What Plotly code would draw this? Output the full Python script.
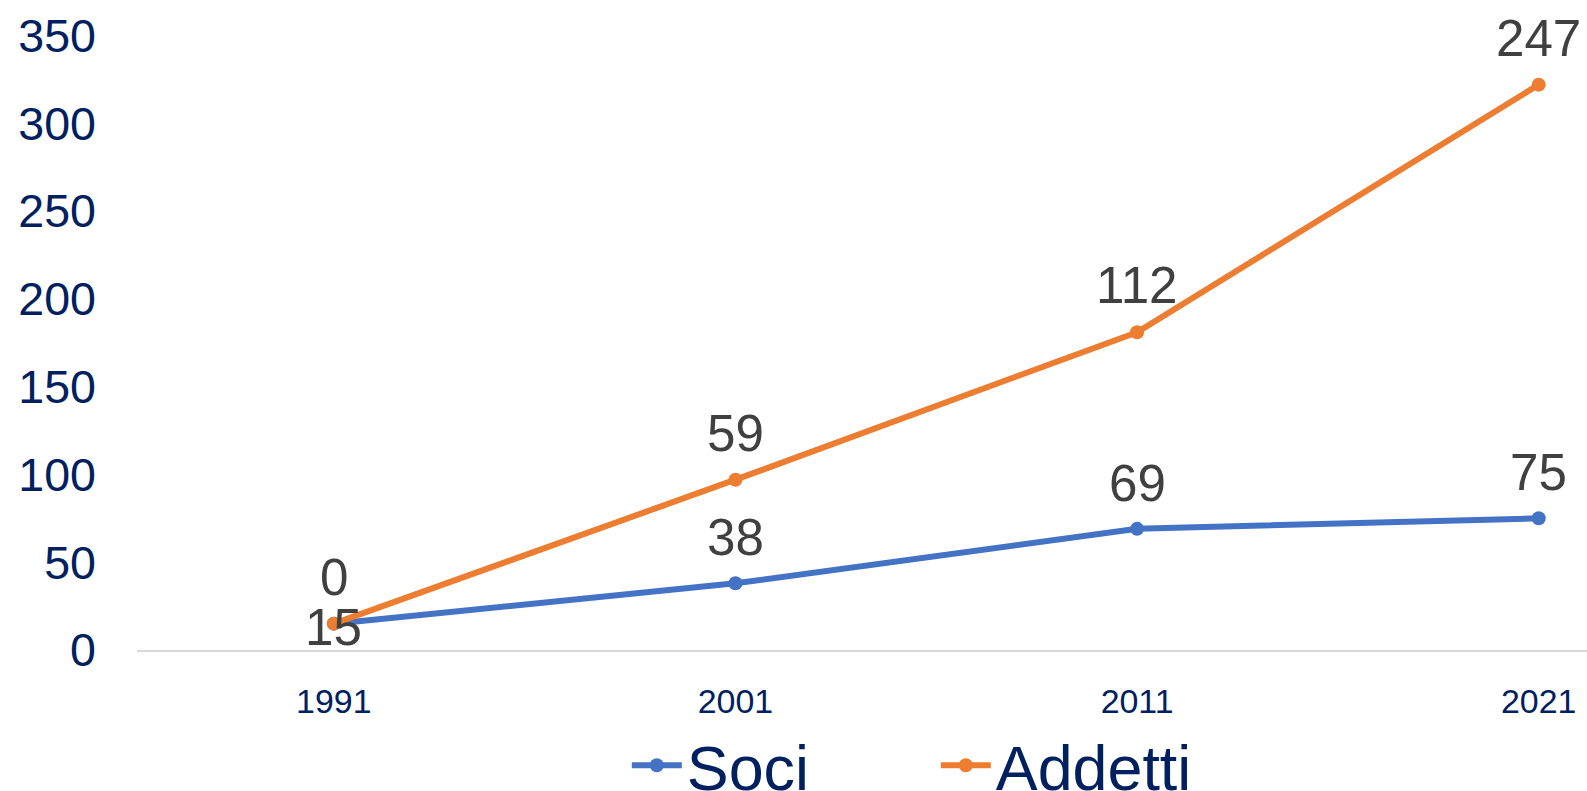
import plotly.graph_objects as go

years = ["1991", "2001", "2011", "2021"]
soci = [15, 38, 69, 75]
addetti = [0, 59, 112, 247]
y_ticks = [0, 50, 100, 150, 200, 250, 300, 350]

BLUE = "#4472C4"
ORANGE = "#ED7D31"
NAVY = "#002060"
LABEL = "#404040"
FONT = "Liberation Sans, Arial, sans-serif"

K = 1.0125  # page-to-figure pixel factor
W, H = round(1587 * K), round(791 * K)

fig = go.Figure()
fig.add_trace(go.Scatter(
    x=years, y=soci, name="Soci", stackgroup="one", fill="none",
    mode="lines+markers",
    line=dict(color=BLUE, width=6), marker=dict(color=BLUE, size=14),
))
fig.add_trace(go.Scatter(
    x=years, y=addetti, name="Addetti", stackgroup="one", fill="none",
    mode="lines+markers",
    line=dict(color=ORANGE, width=6), marker=dict(color=ORANGE, size=14),
))

# data labels (stacked positions computed from the series; category index on x)
stacked_addetti = [s + a for s, a in zip(soci, addetti)]
for i, v in enumerate(soci):
    fig.add_annotation(
        x=i, y=v, text=str(v), showarrow=False,
        yshift=(-4 * K if i == 0 else 45 * K),
        font=dict(size=50.5 * K, color=LABEL, family=FONT),
    )
for i, (v, top) in enumerate(zip(addetti, stacked_addetti)):
    fig.add_annotation(
        x=i, y=top, text=str(v), showarrow=False, yshift=46 * K,
        font=dict(size=50.5 * K, color=LABEL, family=FONT),
    )

fig.update_layout(
    width=W, height=H,
    margin=dict(l=135 * K, r=0, t=0, b=149 * K, autoexpand=False),
    paper_bgcolor="white", plot_bgcolor="white",
    font=dict(family=FONT, color=NAVY),
    showlegend=True,
    legend=dict(
        orientation="h", xref="container", x=619 / 1587, xanchor="left",
        yref="container", y=1 - 709 / 791, yanchor="top",
        font=dict(size=62 * K, color=NAVY, family=FONT),
        itemwidth=50, entrywidth=244, entrywidthmode="pixels",
        tracegroupgap=0, traceorder="normal", bgcolor="rgba(0,0,0,0)",
    ),
    xaxis=dict(
        type="category", range=[-0.49, 3.17],
        showgrid=False, showline=True, linecolor="#D9D9D9", linewidth=2,
        ticks="", tickfont=dict(size=33.5 * K, color=NAVY, family=FONT),
        zeroline=False, fixedrange=True, ticklabelstandoff=20,
    ),
    yaxis=dict(
        range=[0, 370.2], tickvals=y_ticks, showgrid=False, zeroline=False,
        showline=False, ticks="", tickfont=dict(size=46 * K, color=NAVY, family=FONT),
        ticklabelstandoff=40, fixedrange=True,
    ),
)

fig.write_html(
    "out.html",
    config={"displayModeBar": False},
    post_script="document.body.style.margin='0';document.body.style.overflow='hidden';",
)
